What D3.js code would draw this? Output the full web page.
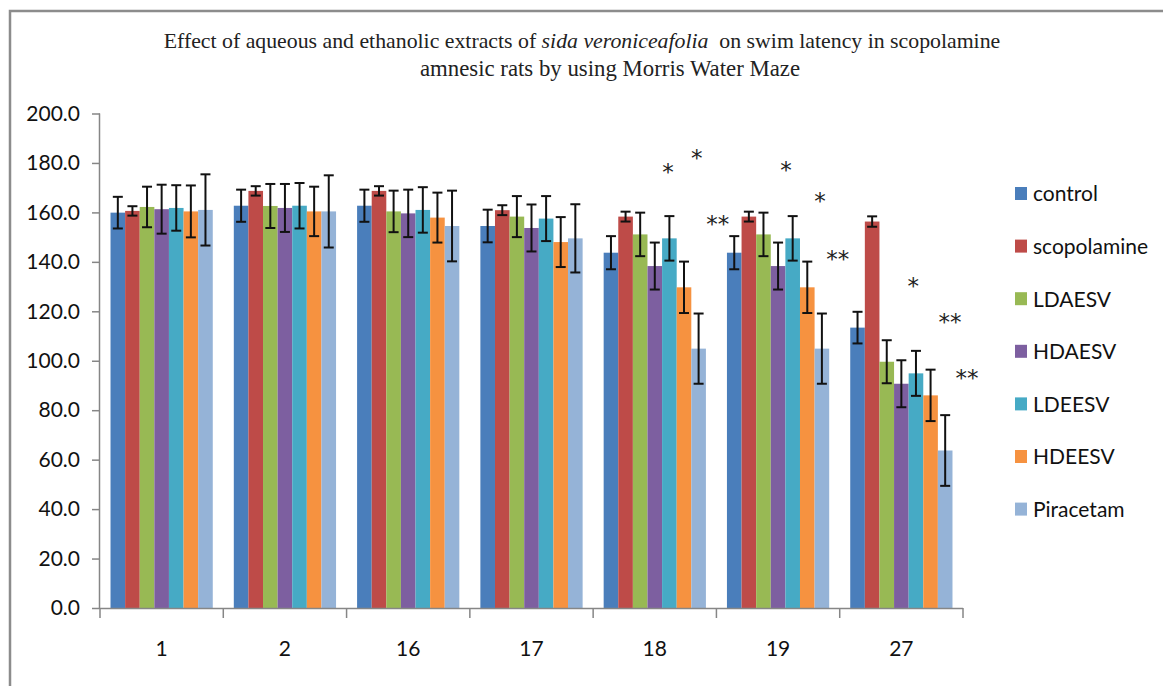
<!DOCTYPE html>
<html>
<head>
<meta charset="utf-8">
<script src="https://cdn.jsdelivr.net/npm/d3@7/dist/d3.min.js"></script>
<style>
  body { margin: 0; background: #fff; }
  .axis path, .axis line { stroke: #868686; stroke-width: 1.5; }
  .axis text { font-family: Lato, 'Open Sans', sans-serif; font-size: 21px; fill: #111; }
</style>
</head>
<body>
<div id="chart"></div>
<script>
// data
const days = ['1', '2', '16', '17', '18', '19', '27'];
const seriesNames = ['control', 'scopolamine', 'LDAESV', 'HDAESV', 'LDEESV', 'HDEESV', 'Piracetam'];
const seriesColors = ['#4a7ebb', '#be4b48', '#98b954', '#7d5fa0', '#46aac5', '#f69240', '#95b3d7'];

const control = [159.9, 162.7, 162.7, 154.5, 143.7, 143.7, 113.4];
const scopolamine = [160.6, 168.7, 168.7, 160.9, 158.3, 158.3, 156.3];
const ldaesv = [162.2, 162.6, 160.4, 158.3, 151.1, 151.1, 99.6];
const hdaesv = [161.3, 161.8, 159.6, 153.7, 138.3, 138.3, 90.7];
const ldeesv = [161.8, 162.7, 161.0, 157.5, 149.5, 149.5, 94.9];
const hdeesv = [160.4, 160.4, 157.9, 148.0, 129.7, 129.7, 86.0];
const piracetam = [161.0, 160.4, 154.5, 149.5, 104.9, 104.9, 63.7];

const controlErr = [6.4, 6.5, 6.5, 6.6, 6.7, 6.7, 6.4];
const scopolamineErr = [1.9, 1.9, 1.9, 2.0, 2.0, 2.0, 2.1];
const ldaesvErr = [8.2, 8.9, 8.4, 8.3, 8.8, 8.8, 8.7];
const hdaesvErr = [9.9, 9.7, 9.6, 9.5, 9.5, 9.5, 9.5];
const ldeesvErr = [9.2, 9.2, 9.2, 9.1, 9.0, 9.0, 9.1];
const hdeesvErr = [10.5, 10.0, 10.1, 10.1, 10.4, 10.4, 10.4];
const piracetamErr = [14.4, 14.6, 14.3, 13.8, 14.2, 14.2, 14.3];

const yTicks = [0, 20, 40, 60, 80, 100, 120, 140, 160, 180, 200];

// significance marks: day, slot (bar index, fractional), value at mark centre
const markDays = ['18', '18', '18', '19', '19', '19', '27', '27', '27'];
const markSlots = [3.9, 5.88, 7.31, 3.55, 5.87, 7.09, 3.81, 6.33, 7.49];
const markValues = [178.7, 184.3, 157.6, 179.4, 167.0, 143.4, 132.6, 118.0, 95.2];
const markLabels = ['*', '*', '**', '*', '*', '**', '*', '**', '**'];

const values = [control, scopolamine, ldaesv, hdaesv, ldeesv, hdeesv, piracetam];
const errors = [controlErr, scopolamineErr, ldaesvErr, hdaesvErr, ldeesvErr, hdeesvErr, piracetamErr];

// ////////////////////////////////////////////////////////////////////////////
// DRAW CHART
// ////////////////////////////////////////////////////////////////////////////

function drawChart() {
  const width = 1163;
  const height = 686;
  const plot = { left: 100, right: 963, top: 113.5, bottom: 608 };

  const svg = d3.select('#chart').append('svg')
    .attr('width', width)
    .attr('height', height);

  // outer frame
  svg.append('rect')
    .attr('x', 10).attr('y', 11)
    .attr('width', 1200).attr('height', 700)
    .attr('fill', 'none')
    .attr('stroke', '#8c8c8c')
    .attr('stroke-width', 2.5);

  // title
  const title = svg.append('text')
    .attr('font-family', "'Liberation Serif', 'Times New Roman', serif")
    .attr('font-size', 21.8)
    .attr('text-anchor', 'middle')
    .attr('fill', '#222');
  const line1 = title.append('tspan').attr('x', 582).attr('y', 48);
  line1.append('tspan').text('Effect of aqueous and ethanolic extracts of ');
  line1.append('tspan').attr('font-style', 'italic').text('sida veroniceafolia');
  line1.append('tspan').text('\u00a0 on swim latency in scopolamine');
  title.append('tspan').attr('x', 610).attr('y', 76)
    .attr('font-size', 22.8)
    .text('amnesic rats by using Morris Water Maze');

  const x0 = d3.scaleBand()
    .domain(days)
    .range([plot.left, plot.right]);
  const x1 = d3.scaleBand()
    .domain(seriesNames)
    .range([0, x0.bandwidth()])
    .paddingOuter(0.72);
  const y = d3.scaleLinear()
    .domain([0, 200])
    .range([plot.bottom, plot.top]);

  // y axis
  const yAxis = svg.append('g')
    .attr('class', 'axis')
    .attr('transform', `translate(${plot.left},0)`)
    .call(d3.axisLeft(y).tickValues(yTicks).tickFormat(d3.format('.1f')).tickSize(8).tickPadding(12));
  yAxis.select('.domain').attr('d', `M-0.5,${plot.top}V${plot.bottom}`);

  // bars
  const groups = svg.append('g').selectAll('g')
    .data(days).enter()
      .append('g')
      .attr('transform', d => `translate(${x0(d)},0)`);

  groups.selectAll('rect')
    .data((d, gi) => seriesNames.map((s, si) => ({ s, si, v: values[si][gi], e: errors[si][gi] })))
    .enter()
      .append('rect')
      .attr('x', d => x1(d.s))
      .attr('y', d => y(d.v))
      .attr('width', x1.bandwidth())
      .attr('height', d => plot.bottom - y(d.v))
      .attr('fill', (d) => seriesColors[d.si]);

  // error bars
  const err = groups.selectAll('g.err')
    .data((d, gi) => seriesNames.map((s, si) => ({ s, v: values[si][gi], e: errors[si][gi] })))
    .enter()
      .append('g')
      .attr('class', 'err')
      .attr('stroke', '#111')
      .attr('stroke-width', 2)
      .attr('transform', d => `translate(${x1(d.s) + x1.bandwidth() / 2},0)`);
  err.append('line')
    .attr('y1', d => y(d.v + d.e)).attr('y2', d => y(d.v - d.e));
  err.append('line')
    .attr('x1', -5).attr('x2', 5)
    .attr('y1', d => y(d.v + d.e)).attr('y2', d => y(d.v + d.e));
  err.append('line')
    .attr('x1', -5).attr('x2', 5)
    .attr('y1', d => y(d.v - d.e)).attr('y2', d => y(d.v - d.e));

  // x axis: labels centred, ticks on category boundaries
  const xAxis = svg.append('g')
    .attr('class', 'axis')
    .attr('transform', `translate(0,${plot.bottom})`)
    .call(d3.axisBottom(x0).tickSize(0).tickPadding(33));
  xAxis.select('.domain').attr('d', `M${plot.left},0.5H${plot.right}`);
  xAxis.selectAll('line.sep')
    .data(days.concat(['end'])).enter()
      .append('line')
      .attr('class', 'sep')
      .attr('x1', d => (d === 'end' ? plot.right : x0(d)))
      .attr('x2', d => (d === 'end' ? plot.right : x0(d)))
      .attr('y1', 0).attr('y2', 10);

  // significance marks
  const markSize = 23;
  svg.append('g').selectAll('text')
    .data(markLabels).enter()
      .append('text')
      .attr('x', (d, i) => x0(markDays[i]) + x1(seriesNames[0]) + (markSlots[i] + 0.5) * x1.bandwidth())
      .attr('y', (d, i) => y(markValues[i]) + markSize * 0.6)
      .attr('text-anchor', 'middle')
      .attr('font-family', "'DejaVu Sans', sans-serif")
      .attr('font-size', markSize)
      .attr('fill', '#222')
      .text(d => d);

  // legend
  const legend = svg.append('g').selectAll('g')
    .data(seriesNames).enter()
      .append('g')
      .attr('transform', (d, i) => `translate(1015,${194 + i * 52.6})`);
  legend.append('rect')
    .attr('x', 0).attr('y', -7)
    .attr('width', 12).attr('height', 13)
    .attr('fill', (d, i) => seriesColors[i]);
  legend.append('text')
    .attr('x', 18).attr('y', 0)
    .attr('dy', '0.35em')
    .attr('font-family', 'Lato, sans-serif')
    .attr('font-size', 21)
    .attr('fill', '#111')
    .text(d => d);
}

drawChart();
</script>
</body>
</html>
